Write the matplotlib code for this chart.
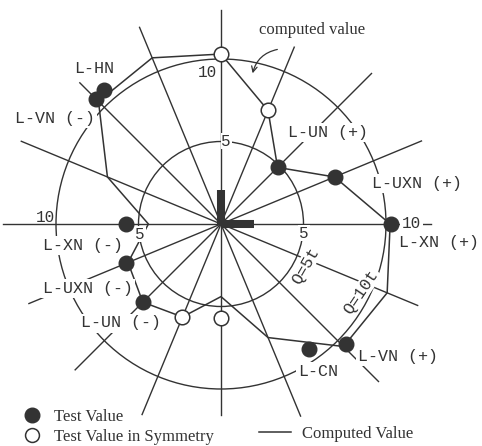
import numpy as np
import matplotlib.pyplot as plt
from matplotlib.lines import Line2D
from matplotlib.patches import Circle

# Spokes every 22.5 deg (0 = right, counter-clockwise) and how far each is drawn
spoke_angles = np.arange(0, 360, 22.5)
spoke_lengths = [12.7, 13.15, 12.9, 11.6, 13.0, 12.9, 12.1, 13.1,
                 13.2, 12.6, 12.5, 12.5, 11.6, 12.6, 13.5, 12.9]

# Computed value envelope, one radius per spoke
computed_r = [10.25, 7.45, 4.85, 7.45, 10.3, 10.9, 10.5, 7.45,
              4.4, 6.1, 6.7, 6.1, 4.4, 7.45, 10.5, 10.9]

# Test values (filled dots)
test_names = ['L-HN', 'L-VN (-)', 'L-UN (+)', 'L-UXN (+)', 'L-XN (+)',
              'L-VN (+)', 'L-CN', 'L-UN (-)', 'L-UXN (-)', 'L-XN (-)']
test_angles = [131, 135, 45, 22.5, 0, -44, -55, -135, -157.5, 180]
test_r = [10.8, 10.7, 4.85, 7.45, 10.3, 10.5, 9.27, 6.7, 6.2, 5.75]

# Test values in symmetry (open circles)
sym_angles = [90, 67.5, -112.5, -90]
sym_r = [10.3, 7.45, 6.1, 5.7]

# reference circles
ring_r = [5, 10]


def to_xy(ang, r):
    a = np.radians(np.asarray(ang, dtype=float))
    r = np.asarray(r, dtype=float)
    return r * np.cos(a), r * np.sin(a)


ink = '#333333'
S = 16.5          # pixels per unit
cx, cy = 221, 224  # centre in pixels

fig = plt.figure(figsize=(4.82, 4.46), dpi=100)
ax = fig.add_axes([0, 0, 1, 1])
ax.set_xlim(-cx / S, (482 - cx) / S)
ax.set_ylim(-(446 - cy) / S, cy / S)
ax.axis('off')

# spokes
for ang, ln in zip(spoke_angles, spoke_lengths):
    x, y = to_xy([ang, ang], [0, ln])
    ax.plot(x, y, color=ink, lw=1.0, zorder=1)

# rings
for r in ring_r:
    ax.add_patch(Circle((0, 0), r, fill=False, ec=ink, lw=1.0, zorder=1))

# computed envelope
px, py = to_xy(np.append(spoke_angles, spoke_angles[0]), computed_r + computed_r[:1])
ax.plot(px, py, color=ink, lw=1.1, zorder=2)

# thick axis marks at the centre
ax.plot([0, 0], [0, 2.06], color=ink, lw=5.8, solid_capstyle='butt', zorder=3)
ax.plot([0, 2.0], [0, 0], color=ink, lw=5.8, solid_capstyle='butt', zorder=3)

# points
tx, ty = to_xy(test_angles, test_r)
ax.plot(tx, ty, ls='none', marker='o', ms=10.5, mfc=ink, mec=ink, zorder=5)
sx, sy = to_xy(sym_angles, sym_r)
ax.plot(sx, sy, ls='none', marker='o', ms=10.5, mfc='white', mec=ink, mew=1.1, zorder=5)

# labels
mono = dict(family='Liberation Mono', size=12, color=ink, ha='center', va='center')
wbox = dict(boxstyle='square,pad=0.12', fc='white', ec='none')
label_pos = {
    'L-HN': (-7.70, 9.45), 'L-VN (-)': (-10.06, 6.42), 'L-UN (+)': (6.48, 5.52),
    'L-UXN (+)': (11.88, 2.48), 'L-XN (+)': (13.21, -1.15), 'L-VN (+)': (10.73, -8.0),
    'L-CN': (5.88, -8.91), 'L-UN (-)': (-6.06, -6.0), 'L-UXN (-)': (-8.06, -3.88),
    'L-XN (-)': (-8.36, -1.33),
}
for name in test_names:
    x, y = label_pos[name]
    ax.text(x, y, name, bbox=wbox, zorder=4, **mono)

num = dict(mono, size=11.5)
ax.text(-0.85, 9.21, '10', **num)
ax.text(-10.61, 0.42, '10', **num)
ax.text(11.52, 0.06, '10', bbox=wbox, zorder=4, **num)
nbox = dict(boxstyle='square,pad=0.05', fc='white', ec='none')
ax.text(0.32, 5.03, '5', bbox=nbox, zorder=4, **num)
ax.text(-4.91, -0.61, '5', bbox=nbox, zorder=4, **num)
ax.text(5.03, -0.55, '5', bbox=nbox, zorder=4, **num)
ax.text(5.1, -2.55, 'Q=5t', rotation=60, bbox=nbox, zorder=4, **mono)
ax.text(8.5, -4.1, 'Q=10t', rotation=56, bbox=nbox, zorder=4, **mono)

serif = dict(family='Liberation Serif', size=12)
ax.text(5.52, 11.76, 'computed value', color=ink, ha='center', va='center', **serif)
ax.annotate('', xy=(1.88, 8.97), xytext=(3.58, 10.61),
            arrowprops=dict(arrowstyle='->', color=ink, lw=0.9,
                            connectionstyle='arc3,rad=0.35'))

# legends
h_test = Line2D([], [], ls='none', marker='o', ms=10.5, mfc=ink, mec=ink)
h_sym = Line2D([], [], ls='none', marker='o', ms=10, mfc='white', mec=ink, mew=1.1)
h_comp = Line2D([], [], color=ink, lw=1.1)
leg1 = ax.legend([h_test, h_sym], ['Test Value', 'Test Value in Symmetry'],
                 loc='upper left', bbox_to_anchor=(24 / 482, 1 - 409 / 446),
                 bbox_transform=fig.transFigure, frameon=False, prop=serif,
                 handlelength=1.0, handletextpad=0.8, labelspacing=0.25,
                 borderpad=0, borderaxespad=0, labelcolor=ink)
ax.add_artist(leg1)
ax.legend([h_comp], ['Computed Value'],
          loc='upper left', bbox_to_anchor=(259 / 482, 1 - 426 / 446),
          bbox_transform=fig.transFigure, frameon=False, prop=serif,
          handlelength=1.9, handletextpad=0.7,
          borderpad=0, borderaxespad=0, labelcolor=ink)

fig.savefig('out.png', dpi=100, facecolor='white')
